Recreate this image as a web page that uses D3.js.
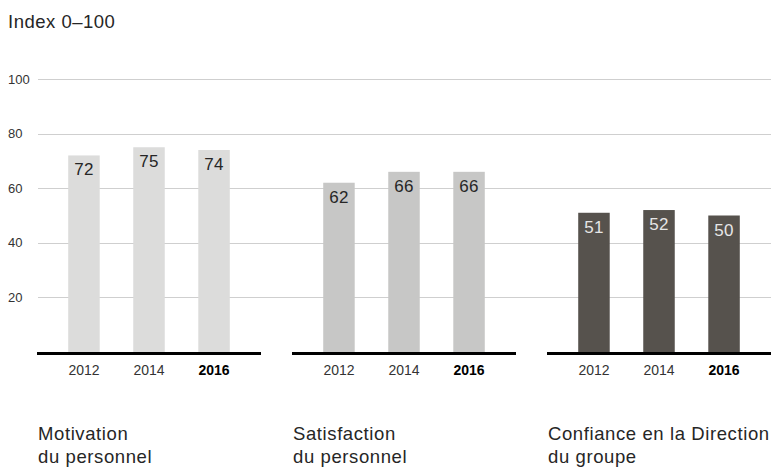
<!DOCTYPE html>
<html>
<head>
<meta charset="utf-8">
<script src="https://cdn.jsdelivr.net/npm/d3@7"></script>
<style>
  html, body { margin: 0; padding: 0; background: #fff; }
  svg { display: block; font-family: "Liberation Sans", Arial, Helvetica, sans-serif; }
</style>
</head>
<body>
<svg id="chart" width="771" height="468"></svg>
<script>
// ---- data ----
const categories = ["Motivation du personnel", "Satisfaction du personnel", "Confiance en la Direction du groupe"];
const categoryLines = [["Motivation", "du personnel"], ["Satisfaction", "du personnel"], ["Confiance en la Direction", "du groupe"]];
const years = ["2012", "2014", "2016"];
const motivation = [72, 75, 74];
const satisfaction = [62, 66, 66];
const confiance = [51, 52, 50];
const yTicks = [20, 40, 60, 80, 100];
const axisTitle = "Index 0–100";

const seriesByCategory = [motivation, satisfaction, confiance];
const barColors = ["#dcdcdb", "#c7c7c6", "#56524d"];
const labelColors = ["#262626", "#262626", "#e6e6e6"];

const svg = d3.select("#chart");

const y = d3.scaleLinear().domain([0, 100]).range([352, 79]);
const xGroup = d3.scaleBand().domain(categories).range([37, 771]).paddingInner(31 / 255).paddingOuter(0);
const xYear = d3.scaleBand().domain(years).range([0, xGroup.bandwidth()]).paddingInner(33 / 64).paddingOuter(0.48);

// title
svg.append("text").attr("x", 8).attr("y", 28)
  .attr("font-size", 18.5).attr("letter-spacing", 0.5).attr("fill", "#262626").text(axisTitle);

// gridlines
svg.append("g").selectAll("line").data(yTicks).join("line")
  .attr("x1", 38).attr("x2", 771)
  .attr("y1", d => Math.round(y(d)) + 0.5).attr("y2", d => Math.round(y(d)) + 0.5)
  .attr("stroke", "#cfcfcf").attr("stroke-width", 1);

// y tick labels
svg.append("g").selectAll("text").data(yTicks).join("text")
  .attr("x", 8).attr("y", d => y(d)).attr("dy", "0.36em")
  .attr("font-size", 13).attr("fill", "#333").text(d => d);

// groups
const groups = svg.append("g").selectAll("g").data(categories).join("g")
  .attr("transform", d => `translate(${xGroup(d)},0)`);

groups.each(function(cat, ci) {
  const g = d3.select(this);
  const vals = seriesByCategory[ci];
  const data = years.map((yr, i) => ({ year: yr, value: vals[i] }));

  g.selectAll("rect").data(data).join("rect")
    .attr("x", d => xYear(d.year)).attr("width", xYear.bandwidth())
    .attr("y", d => y(d.value)).attr("height", d => y(0) - y(d.value))
    .attr("fill", barColors[ci]);

  g.selectAll("text.val").data(data).join("text").attr("class", "val")
    .attr("x", d => xYear(d.year) + xYear.bandwidth() / 2)
    .attr("y", d => y(d.value) + 20)
    .attr("text-anchor", "middle").attr("font-size", 17).attr("letter-spacing", 0.3)
    .attr("fill", labelColors[ci]).text(d => d.value);

  // baseline
  g.append("line").attr("x1", 0).attr("x2", xGroup.bandwidth())
    .attr("y1", y(0) + 1.5).attr("y2", y(0) + 1.5)
    .attr("stroke", "#000").attr("stroke-width", 3);

  // year labels
  g.selectAll("text.yr").data(data).join("text").attr("class", "yr")
    .attr("x", d => xYear(d.year) + xYear.bandwidth() / 2)
    .attr("y", 375).attr("text-anchor", "middle").attr("font-size", 14)
    .attr("font-weight", (d, i) => i === years.length - 1 ? "bold" : "normal")
    .attr("fill", (d, i) => i === years.length - 1 ? "#000" : "#333")
    .text(d => d.year);

  // category label
  const t = g.append("text").attr("x", 1).attr("y", 440).attr("font-size", 18.5)
    .attr("letter-spacing", 0.6).attr("fill", "#262626");
  categoryLines[ci].forEach((line, li) => {
    t.append("tspan").attr("x", 1).attr("y", 440 + li * 22.5).text(line);
  });
});
</script>
</body>
</html>
